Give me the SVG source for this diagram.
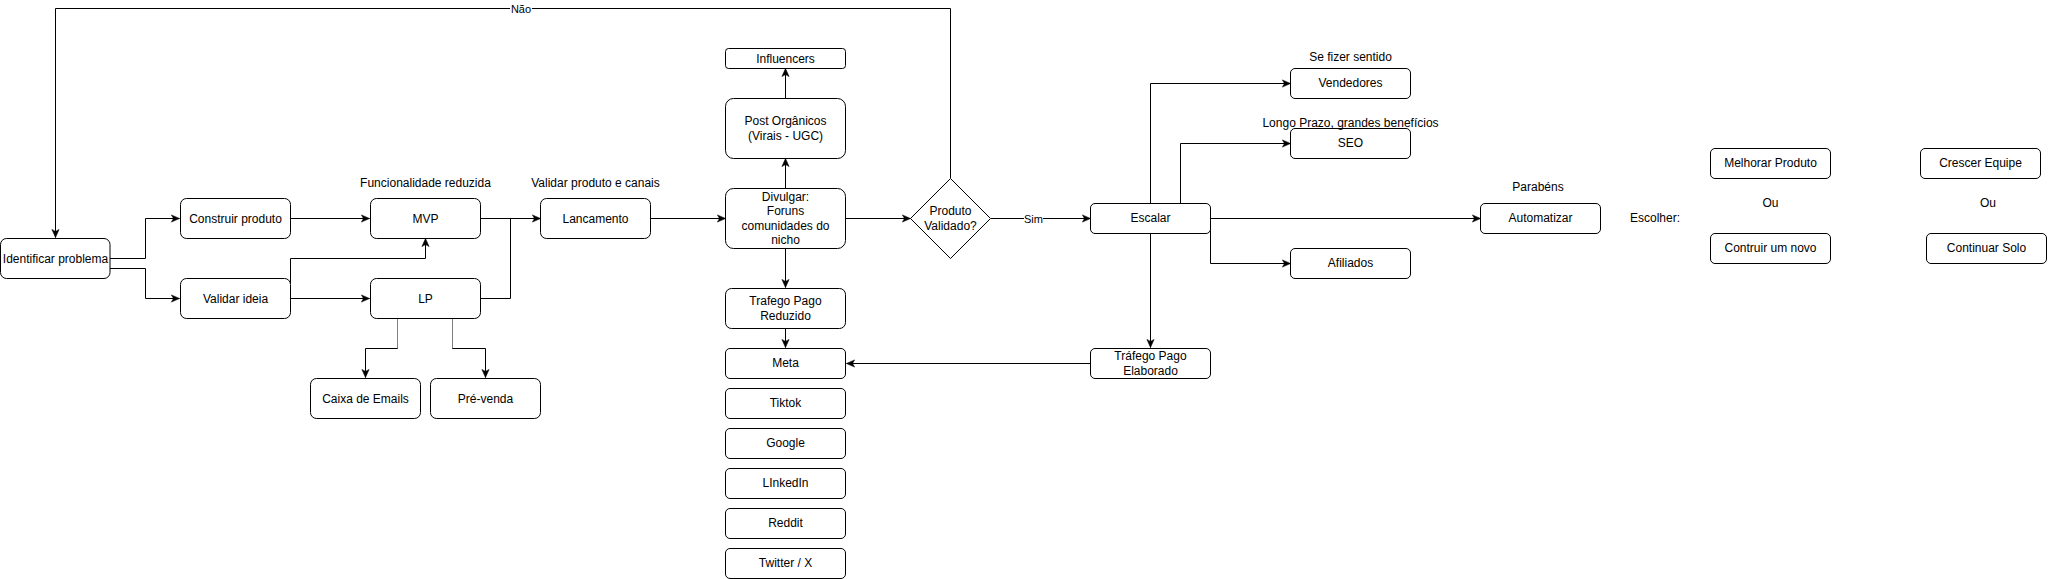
<svg xmlns="http://www.w3.org/2000/svg" width="2048" height="579" viewBox="0 0 2048 579">
<style>
.n{fill:#fff;stroke:#000;stroke-width:1}
.t{font-family:"Liberation Sans",Arial,Helvetica,sans-serif;font-size:12px;fill:#000;text-anchor:middle;dominant-baseline:central}
.s{font-size:11px}
.e{fill:none;stroke:#000;stroke-width:1}
.g{fill:none;stroke:#808080;stroke-width:1}
</style>
<defs>
<marker id="a" viewBox="0 0 10 10" refX="9.5" refY="5" markerWidth="9" markerHeight="9" markerUnits="userSpaceOnUse" orient="auto">
<path d="M0.5,1 L9.5,5 L0.5,9 L2.8,5 z" fill="#000" stroke="#000" stroke-width="0.6"/>
</marker>
</defs>
<rect width="2048" height="579" fill="#fff"/>
<g id="connectors">
<path class="e" d="M950.5,178 V8.5 H55.5 V237.5" marker-end="url(#a)"/>
<rect x="510" y="2" width="22" height="13" fill="#fff"/>
<text class="t s" x="521" y="8.5">Não</text>
<path class="e" d="M110,258.5 H145.5 V218.5 H179.5" marker-end="url(#a)"/>
<path class="e" d="M110,268.5 H145.5 V298.5 H179.5" marker-end="url(#a)"/>
<path class="e" d="M290,218.5 H369.5" marker-end="url(#a)"/>
<path class="e" d="M290,298.5 H369.5" marker-end="url(#a)"/>
<path class="e" d="M290.5,284 V258.5 H425.5 V238.5" marker-end="url(#a)"/>
<path class="e" d="M480,218.5 H540.5" marker-end="url(#a)"/>
<path class="e" d="M480,298.5 H510.5 V218.5"/>
<path class="e" d="M397.5,318 V348.5 H365.5 V377.5" marker-end="url(#a)"/>
<path class="e" d="M452.5,318 V348.5 H485.5 V377.5" marker-end="url(#a)"/>
<path class="g" d="M397.5,318.5 V348 M452.5,318.5 V348"/>
<path class="e" d="M651,218.5 H725.5" marker-end="url(#a)"/>
<path class="e" d="M846,218.5 H910.5" marker-end="url(#a)"/>
<path class="e" d="M785.5,188 V158.5" marker-end="url(#a)"/>
<path class="e" d="M785.5,98 V68.5" marker-end="url(#a)"/>
<path class="e" d="M785.5,248 V287.5" marker-end="url(#a)"/>
<path class="e" d="M785.5,328 V347.5" marker-end="url(#a)"/>
<path class="e" d="M991,218.5 H1090.5" marker-end="url(#a)"/>
<rect x="1024" y="212" width="19" height="13" fill="#fff"/>
<text class="t s" x="1033.5" y="219">Sim</text>
<path class="e" d="M1150.5,203 V83.5 H1290.5" marker-end="url(#a)"/>
<path class="e" d="M1180.5,203 V143.5 H1290.5" marker-end="url(#a)"/>
<path class="e" d="M1210.5,226 V263.5 H1290.5" marker-end="url(#a)"/>
<path class="e" d="M1211,218.5 H1480.5" marker-end="url(#a)"/>
<path class="e" d="M1150.5,233 V347.5" marker-end="url(#a)"/>
<path class="e" d="M1091,363.5 H846.5" marker-end="url(#a)"/>
</g>
<g id="identificar"><rect class="n" x="0.5" y="238.5" width="109.5" height="40" rx="6"/><text class="t" x="55.5" y="258.5">Identificar problema</text></g>
<g id="construir"><rect class="n" x="180.5" y="198.5" width="110" height="40" rx="6"/><text class="t" x="235.5" y="218.5">Construir produto</text></g>
<g id="validar"><rect class="n" x="180.5" y="278.5" width="110" height="40" rx="6"/><text class="t" x="235.5" y="298.5">Validar ideia</text></g>
<g id="mvp"><rect class="n" x="370.5" y="198.5" width="110" height="40" rx="6"/><text class="t" x="425.5" y="218.5">MVP</text><text class="t" x="425.5" y="183">Funcionalidade reduzida</text></g>
<g id="lp"><rect class="n" x="370.5" y="278.5" width="110" height="40" rx="6"/><text class="t" x="425.5" y="298.5">LP</text></g>
<g id="caixa"><rect class="n" x="310.5" y="378.5" width="110" height="40" rx="6"/><text class="t" x="365.5" y="398.5">Caixa de Emails</text></g>
<g id="prevenda"><rect class="n" x="430.5" y="378.5" width="110" height="40" rx="6"/><text class="t" x="485.5" y="398.5">Pré-venda</text></g>
<g id="lancamento"><rect class="n" x="540.5" y="198.5" width="110" height="40" rx="6"/><text class="t" x="595.5" y="218.5">Lancamento</text><text class="t" x="595.5" y="183">Validar produto e canais</text></g>
<g id="divulgar"><rect class="n" x="725.5" y="188.5" width="120" height="60" rx="8"/><text class="t" x="785.5" y="197">Divulgar:</text><text class="t" x="785.5" y="211">Foruns</text><text class="t" x="785.5" y="226">comunidades do</text><text class="t" x="785.5" y="240">nicho</text></g>
<g id="post"><rect class="n" x="725.5" y="98.5" width="120" height="60" rx="8"/><text class="t" x="785.5" y="121">Post Orgânicos</text><text class="t" x="785.5" y="136">(Virais - UGC)</text></g>
<g id="influencers"><rect class="n" x="725.5" y="48.5" width="120" height="20" rx="3"/><text class="t" x="785.5" y="58.5">Influencers</text></g>
<g id="produto-validado"><path class="n" d="M950.5,178.5 L990.5,218.5 L950.5,258.5 L910.5,218.5 Z"/><text class="t" x="950.5" y="211">Produto</text><text class="t" x="950.5" y="226">Validado?</text></g>
<g id="trafego-reduzido"><rect class="n" x="725.5" y="288.5" width="120" height="40" rx="6"/><text class="t" x="785.5" y="301">Trafego Pago</text><text class="t" x="785.5" y="316">Reduzido</text></g>
<g id="meta"><rect class="n" x="725.5" y="348.5" width="120" height="30" rx="4.5"/><text class="t" x="785.5" y="363">Meta</text></g>
<g id="tiktok"><rect class="n" x="725.5" y="388.5" width="120" height="30" rx="4.5"/><text class="t" x="785.5" y="403">Tiktok</text></g>
<g id="google"><rect class="n" x="725.5" y="428.5" width="120" height="30" rx="4.5"/><text class="t" x="785.5" y="443">Google</text></g>
<g id="linkedin"><rect class="n" x="725.5" y="468.5" width="120" height="30" rx="4.5"/><text class="t" x="785.5" y="483">LInkedIn</text></g>
<g id="reddit"><rect class="n" x="725.5" y="508.5" width="120" height="30" rx="4.5"/><text class="t" x="785.5" y="523">Reddit</text></g>
<g id="twitter"><rect class="n" x="725.5" y="548.5" width="120" height="30" rx="4.5"/><text class="t" x="785.5" y="563">Twitter / X</text></g>
<g id="escalar"><rect class="n" x="1090.5" y="203.5" width="120" height="30" rx="4.5"/><text class="t" x="1150.5" y="218">Escalar</text></g>
<g id="trafego-elaborado"><rect class="n" x="1090.5" y="348.5" width="120" height="30" rx="4.5"/><text class="t" x="1150.5" y="356">Tráfego Pago</text><text class="t" x="1150.5" y="371">Elaborado</text></g>
<g id="vendedores"><rect class="n" x="1290.5" y="68.5" width="120" height="30" rx="4.5"/><text class="t" x="1350.5" y="83">Vendedores</text><text class="t" x="1350.5" y="57">Se fizer sentido</text></g>
<g id="seo"><rect class="n" x="1290.5" y="128.5" width="120" height="30" rx="4.5"/><text class="t" x="1350.5" y="143">SEO</text><text class="t" x="1350.5" y="122.5">Longo Prazo, grandes benefícios</text></g>
<g id="afiliados"><rect class="n" x="1290.5" y="248.5" width="120" height="30" rx="4.5"/><text class="t" x="1350.5" y="263">Afiliados</text></g>
<g id="automatizar"><rect class="n" x="1480.5" y="203.5" width="120" height="30" rx="4.5"/><text class="t" x="1540.5" y="218">Automatizar</text><text class="t" x="1538" y="187">Parabéns</text></g>
<g id="escolher"><text class="t" x="1655" y="218">Escolher:</text></g>
<g id="melhorar"><rect class="n" x="1710.5" y="148.5" width="120" height="30" rx="4.5"/><text class="t" x="1770.5" y="163">Melhorar Produto</text></g>
<g id="ou1"><text class="t" x="1770.5" y="203">Ou</text></g>
<g id="contruir-novo"><rect class="n" x="1710.5" y="233.5" width="120" height="30" rx="4.5"/><text class="t" x="1770.5" y="248">Contruir um novo</text></g>
<g id="crescer"><rect class="n" x="1920.5" y="148.5" width="120" height="30" rx="4.5"/><text class="t" x="1980.5" y="163">Crescer Equipe</text></g>
<g id="ou2"><text class="t" x="1988" y="203">Ou</text></g>
<g id="continuar-solo"><rect class="n" x="1926.5" y="233.5" width="120" height="30" rx="4.5"/><text class="t" x="1986.5" y="248">Continuar Solo</text></g>
</svg>
